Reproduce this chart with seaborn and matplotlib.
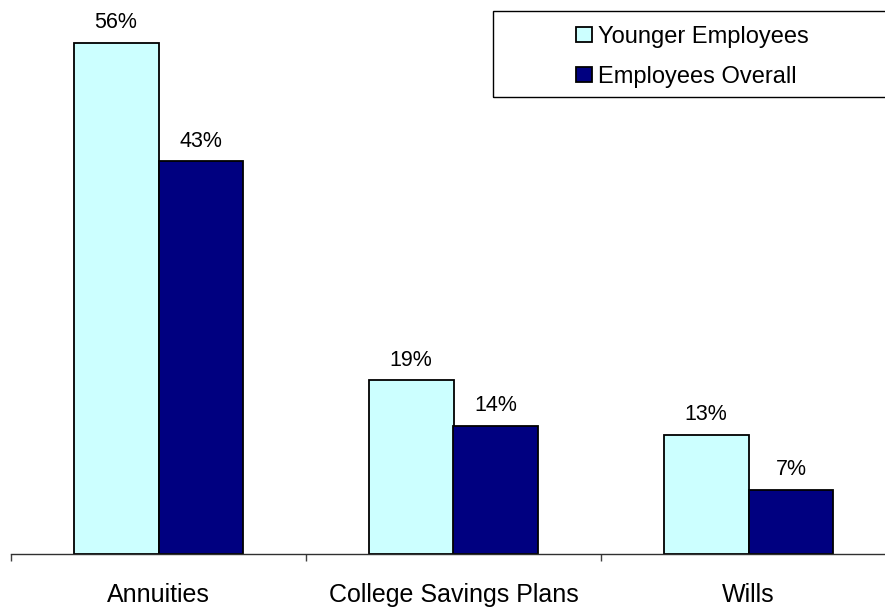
import pandas as pd
import matplotlib
matplotlib.use("Agg")
import matplotlib.pyplot as plt
import seaborn as sns
from matplotlib.patches import Rectangle

# 데이터
categories = ["Annuities", "College Savings Plans", "Wills"]
younger = [56, 19, 13]
overall = [43, 14, 7]
series_names = ["Younger Employees", "Employees Overall"]
colors = ["#CCFFFF", "#000080"]

df = pd.DataFrame({
    "category": categories * 2,
    "group": [series_names[0]] * 3 + [series_names[1]] * 3,
    "value": younger + overall,
})

sns.set_style("white")
plt.rcParams["font.family"] = ["Liberation Sans", "DejaVu Sans"]
plt.rcParams["text.color"] = "black"
plt.rcParams["xtick.color"] = "black"

W, H = 885, 607
fig = plt.figure(figsize=(W / 100, H / 100), dpi=100)
# axes slightly wider than the figure so the baseline runs off the right edge
ax = fig.add_axes([11 / W, (H - 553.5) / H, 885 / W, 553.5 / H])

sns.barplot(data=df, x="category", y="value", hue="group", order=categories,
            hue_order=series_names, palette=colors, saturation=1, width=0.576,
            edgecolor="black", linewidth=1.3, ax=ax)

for cont in ax.containers:
    ax.bar_label(cont, labels=[f"{int(round(b.get_height()))}%" for b in cont],
                 padding=7, fontsize=15.5, color="black")

ax.set_xlim(-0.5, 2.5)
ax.set_ylim(0, 60.7)
ax.set_xlabel("")
ax.set_ylabel("")
ax.set_yticks([])

# 카테고리 경계에 눈금, 라벨은 가운데
ax.set_xticks([0, 1, 2])
ax.set_xticklabels(categories, fontsize=18, color="black")
ax.set_xticks([-0.5, 0.5, 1.5, 2.5], minor=True)
ax.tick_params(axis="x", which="major", length=0, pad=21)
ax.tick_params(axis="x", which="minor", length=5, width=1, color="#404040",
               direction="out", bottom=True)

for s in ["top", "right", "left"]:
    ax.spines[s].set_visible(False)
ax.spines["bottom"].set_color("#303030")
ax.spines["bottom"].set_linewidth(1)

# 범례
handles, labels = ax.get_legend_handles_labels()
ax.get_legend().remove()
fig.legend(handles, labels, loc="upper left",
           bbox_to_anchor=(576 / W, 1 - 26 / H), frameon=False,
           fontsize=17, borderpad=0, borderaxespad=0,
           handlelength=0.68, handleheight=0.6, handletextpad=0.25,
           labelspacing=0.76, labelcolor="black")
fig.patches.append(Rectangle((493 / W, 1 - 97 / H), 410 / W, 86 / H,
                             transform=fig.transFigure, fill=False,
                             edgecolor="black", linewidth=1))

fig.savefig("out.png", dpi=100)
